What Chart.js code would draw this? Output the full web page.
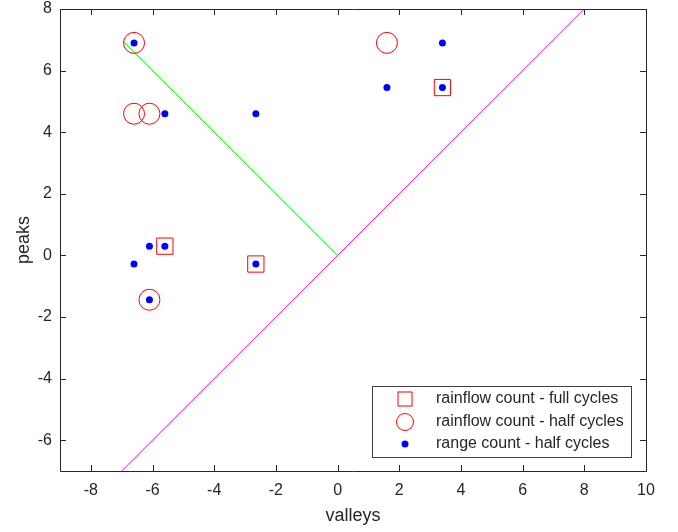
<!DOCTYPE html>
<html>
<head>
<meta charset="utf-8">
<script src="https://cdn.jsdelivr.net/npm/chart.js@4"></script>
<style>
  html, body { margin: 0; padding: 0; background: #fff; }
</style>
</head>
<body>
<canvas id="rainflow-chart" width="678" height="532"></canvas>
<script>
// données
const fullX = [-5.6, -2.65, 3.4];
const fullY = [0.3, -0.28, 5.45];
const halfX = [-6.6, -6.6, -6.1, 1.6, -6.1];
const halfY = [6.9, 4.6, 4.6, 6.9, -1.44];
const rangeX = [-6.6, -5.6, -2.65, -6.1, -5.6, -6.6, -2.65, -6.1, 3.4, 1.6, 3.4];
const rangeY = [6.9, 4.6, 4.6, 0.3, 0.3, -0.28, -0.28, -1.44, 6.9, 5.45, 5.45];
const greenX = [-6.95, 0];
const greenY = [6.95, 0];
const diagX = [-7, 8];
const diagY = [-7, 8];
const xTicks = [-8, -6, -4, -2, 0, 2, 4, 6, 8, 10];
const yTicks = [-6, -4, -2, 0, 2, 4, 6, 8];
const legendLabels = [
  "rainflow count - full cycles",
  "rainflow count - half cycles",
  "range count - half cycles",
];

const AXIS_COLOR = "#262626";
const FONT = "'Liberation Sans', Arial, sans-serif";

const toPoints = (xs, ys) => xs.map((x, i) => ({ x: x, y: ys[i] }));

// cadre + graduations vers l'intérieur (style MATLAB)
const boxPlugin = {
  id: "boxTicks",
  afterDatasetsDraw(chart) {
    const { ctx, chartArea: a, scales } = chart;
    const len = 6;
    ctx.save();
    ctx.strokeStyle = AXIS_COLOR;
    ctx.lineWidth = 1;
    ctx.beginPath();
    ctx.rect(Math.round(a.left) + 0.5, Math.round(a.top) + 0.5,
      Math.round(a.right - a.left), Math.round(a.bottom - a.top));
    scales.x.ticks.forEach((t) => {
      const px = Math.round(scales.x.getPixelForValue(t.value)) + 0.5;
      ctx.moveTo(px, a.bottom); ctx.lineTo(px, a.bottom - len);
      ctx.moveTo(px, a.top); ctx.lineTo(px, a.top + len);
    });
    scales.y.ticks.forEach((t) => {
      const py = Math.round(scales.y.getPixelForValue(t.value)) + 0.5;
      ctx.moveTo(a.left, py); ctx.lineTo(a.left + len, py);
      ctx.moveTo(a.right, py); ctx.lineTo(a.right - len, py);
    });
    ctx.stroke();
    ctx.restore();
  },
};

// légende encadrée en bas à droite
const legendPlugin = {
  id: "boxLegend",
  afterDraw(chart) {
    const { ctx } = chart;
    const bx = 372.5, by = 386.5, bw = 259, bh = 71;
    const mx = 405, tx = 436;
    const rows = [399, 422, 444];
    ctx.save();
    ctx.fillStyle = "#fff";
    ctx.fillRect(bx, by, bw, bh);
    ctx.strokeStyle = "#404040";
    ctx.lineWidth = 1;
    ctx.strokeRect(bx, by, bw, bh);

    ctx.strokeStyle = "#ff0000";
    ctx.strokeRect(mx - 7, rows[0] - 7, 14, 14);
    ctx.beginPath();
    ctx.arc(mx, rows[1], 8.5, 0, Math.PI * 2);
    ctx.stroke();
    ctx.fillStyle = "#0000ff";
    ctx.beginPath();
    ctx.arc(mx, rows[2], 3.5, 0, Math.PI * 2);
    ctx.fill();

    ctx.fillStyle = AXIS_COLOR;
    ctx.font = "16px " + FONT;
    ctx.textBaseline = "middle";
    ctx.textAlign = "left";
    legendLabels.forEach((lbl, i) => ctx.fillText(lbl, tx, rows[i]));
    ctx.restore();
  },
};

const ctx = document.getElementById("rainflow-chart").getContext("2d");
new Chart(ctx, {
  type: "scatter",
  data: {
    datasets: [
      {
        label: legendLabels[2],
        data: toPoints(rangeX, rangeY),
        pointStyle: "circle",
        pointRadius: 3.5,
        backgroundColor: "#0000ff",
        borderColor: "#0000ff",
        borderWidth: 0,
      },
      {
        label: legendLabels[1],
        data: toPoints(halfX, halfY),
        pointStyle: "circle",
        pointRadius: 10.5,
        backgroundColor: "rgba(0,0,0,0)",
        borderColor: "#ff0000",
        borderWidth: 1,
      },
      {
        label: legendLabels[0],
        data: toPoints(fullX, fullY),
        pointStyle: "rect",
        pointRadius: 11.5,
        backgroundColor: "rgba(0,0,0,0)",
        borderColor: "#ff0000",
        borderWidth: 1,
      },
      {
        data: toPoints(greenX, greenY),
        showLine: true,
        pointRadius: 0,
        borderColor: "#00ff00",
        borderWidth: 1,
      },
      {
        data: toPoints(diagX, diagY),
        showLine: true,
        pointRadius: 0,
        borderColor: "#ff00ff",
        borderWidth: 1,
      },
    ],
  },
  options: {
    responsive: false,
    animation: false,
    layout: {
      autoPadding: false,
      padding: { left: 0, right: 32, top: 9, bottom: 0 },
    },
    plugins: {
      legend: { display: false },
      tooltip: { enabled: false },
    },
    scales: {
      x: {
        type: "linear",
        min: -9,
        max: 10,
        afterBuildTicks: (axis) => { axis.ticks = xTicks.map((v) => ({ value: v })); },
        afterFit: (axis) => {
          axis.height = 61;
          axis.paddingLeft = 0;
          axis.paddingRight = 0;
        },
        grid: { display: false, drawTicks: false },
        border: { display: false },
        ticks: {
          padding: 10,
          color: AXIS_COLOR,
          font: { family: FONT, size: 16 },
          maxRotation: 0,
        },
        title: {
          display: true,
          text: "valleys",
          color: AXIS_COLOR,
          font: { family: FONT, size: 18 },
          padding: { top: 0, bottom: 5 },
        },
      },
      y: {
        type: "linear",
        min: -7,
        max: 8,
        afterBuildTicks: (axis) => { axis.ticks = yTicks.map((v) => ({ value: v })); },
        afterFit: (axis) => {
          axis.width = 60;
          axis.paddingTop = 0;
          axis.paddingBottom = 0;
        },
        grid: { display: false, drawTicks: false },
        border: { display: false },
        ticks: {
          padding: 8,
          color: AXIS_COLOR,
          font: { family: FONT, size: 16 },
        },
        title: {
          display: true,
          text: "peaks",
          color: AXIS_COLOR,
          font: { family: FONT, size: 18 },
          padding: { top: 13, bottom: 0 },
        },
      },
    },
  },
  plugins: [boxPlugin, legendPlugin],
});
</script>
</body>
</html>
